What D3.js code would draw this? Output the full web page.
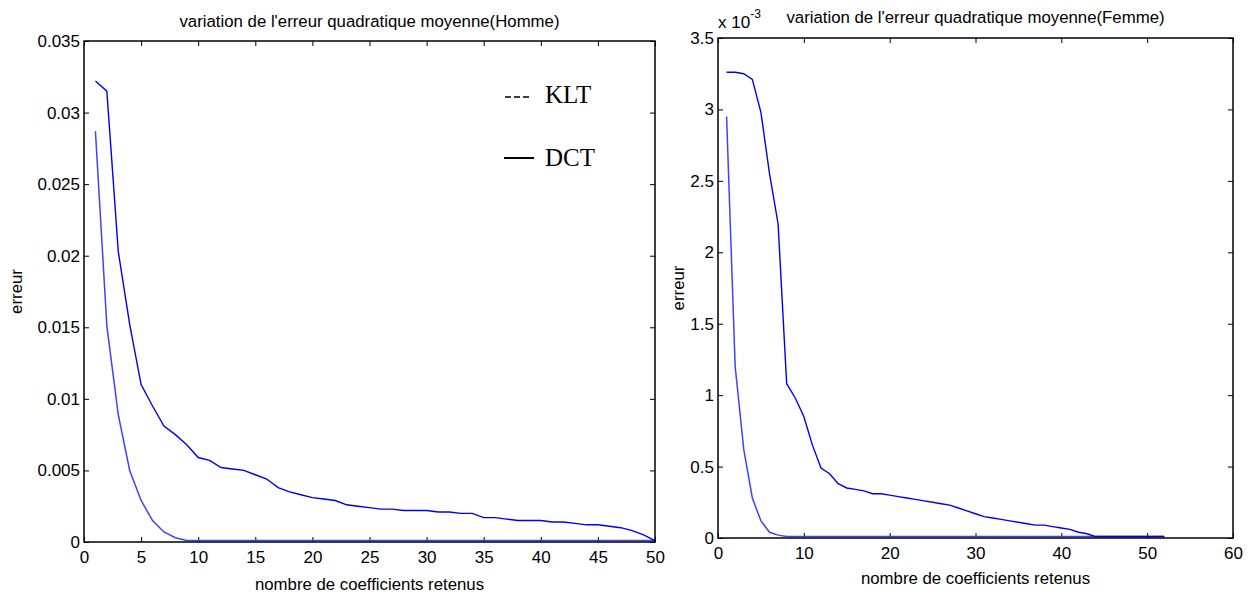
<!DOCTYPE html>
<html>
<head>
<meta charset="utf-8">
<script src="https://cdn.jsdelivr.net/npm/d3@7"></script>
<style>
  body { margin: 0; background: #fff; }
  text { font-family: Arial, "Liberation Sans", sans-serif; fill: #000; }
</style>
</head>
<body>
<div id="chart"></div>
<script>
// svg container
var svgWidth = 1254;
var svgHeight = 595;

// ---- data ----
// Homme: x = 1..50
var hommeX = d3.range(1, 51);
var hommeDCT = [0.0322, 0.0315, 0.0203, 0.0152, 0.0110, 0.0095, 0.0081, 0.0075, 0.0068, 0.0059,
                0.0057, 0.0052, 0.0051, 0.0050, 0.0047, 0.0044, 0.0038, 0.0035, 0.0033, 0.0031,
                0.0030, 0.0029, 0.0026, 0.0025, 0.0024, 0.0023, 0.0023, 0.0022, 0.0022, 0.0022,
                0.0021, 0.0021, 0.0020, 0.0020, 0.0017, 0.0017, 0.0016, 0.0015, 0.0015, 0.0015,
                0.0014, 0.0014, 0.0013, 0.0012, 0.0012, 0.0011, 0.0010, 0.0008, 0.0005, 0.0001];
var hommeKLT = [0.0287, 0.0151, 0.0089, 0.0050, 0.0029, 0.0015, 0.0007, 0.0003, 0.0001, 0.0001,
                0.0001, 0.0001, 0.0001, 0.0001, 0.0001, 0.0001, 0.0001, 0.0001, 0.0001, 0.0001,
                0.0001, 0.0001, 0.0001, 0.0001, 0.0001, 0.0001, 0.0001, 0.0001, 0.0001, 0.0001,
                0.0001, 0.0001, 0.0001, 0.0001, 0.0001, 0.0001, 0.0001, 0.0001, 0.0001, 0.0001,
                0.0001, 0.0001, 0.0001, 0.0001, 0.0001, 0.0001, 0.0001, 0.0001, 0.0001, 0.0001];

// Femme: x = 1..52, values in units of 10^-3
var femmeX = d3.range(1, 53);
var femmeDCT = [3.26, 3.26, 3.25, 3.21, 2.98, 2.55, 2.20, 1.08, 0.98, 0.85,
                0.65, 0.49, 0.45, 0.38, 0.35, 0.34, 0.33, 0.31, 0.31, 0.30,
                0.29, 0.28, 0.27, 0.26, 0.25, 0.24, 0.23, 0.21, 0.19, 0.17,
                0.15, 0.14, 0.13, 0.12, 0.11, 0.10, 0.09, 0.09, 0.08, 0.07,
                0.06, 0.04, 0.03, 0.01, 0.01, 0.01, 0.01, 0.01, 0.01, 0.01,
                0.01, 0.01];
var femmeKLT = [2.95, 1.20, 0.62, 0.28, 0.12, 0.04, 0.02, 0.01, 0.01, 0.01,
                0.01, 0.01, 0.01, 0.01, 0.01, 0.01, 0.01, 0.01, 0.01, 0.01,
                0.01, 0.01, 0.01, 0.01, 0.01, 0.01, 0.01, 0.01, 0.01, 0.01,
                0.01, 0.01, 0.01, 0.01, 0.01, 0.01, 0.01, 0.01, 0.01, 0.01,
                0.01, 0.01, 0.01, 0.01, 0.01, 0.01, 0.01, 0.01, 0.01, 0.01,
                0.01, 0.01];

// tick values
var hommeXTicks = d3.range(0, 51, 5);
var hommeYTicks = d3.range(0, 0.0351, 0.005);
var femmeXTicks = d3.range(0, 61, 10);
var femmeYTicks = d3.range(0, 3.51, 0.5);

var titleHomme = "variation de l'erreur quadratique moyenne(Homme)";
var titleFemme = "variation de l'erreur quadratique moyenne(Femme)";
var xLabel = "nombre de coefficients retenus";
var yLabel = "erreur";

var svg = d3.select("#chart")
    .append("svg")
    .attr("width", svgWidth)
    .attr("height", svgHeight);

// draw one matlab-like panel
function drawPanel(p) {
    var w = p.right - p.left;
    var h = p.bottom - p.top;
    var g = svg.append("g")
        .attr("transform", `translate(${p.left}, ${p.top})`);

    var x = d3.scaleLinear().domain(p.xDomain).range([0, w]);
    var y = d3.scaleLinear().domain(p.yDomain).range([h, 0]);

    // axes with inward ticks on all four sides
    var bottom = g.append("g")
        .attr("transform", `translate(0, ${h})`)
        .call(d3.axisBottom(x).tickValues(p.xTicks).tickSizeInner(-5).tickSizeOuter(0).tickPadding(9));
    var top = g.append("g")
        .call(d3.axisTop(x).tickValues(p.xTicks).tickSizeInner(-5).tickSizeOuter(0).tickFormat(""));
    var left = g.append("g")
        .call(d3.axisLeft(y).tickValues(p.yTicks).tickSizeInner(-5).tickSizeOuter(0).tickPadding(4)
            .tickFormat(p.yFormat));
    var rightAx = g.append("g")
        .attr("transform", `translate(${w}, 0)`)
        .call(d3.axisRight(y).tickValues(p.yTicks).tickSizeInner(-5).tickSizeOuter(0).tickFormat(""));

    [bottom, top, left, rightAx].forEach(function(a) {
        a.select(".domain").remove();
        a.selectAll("line").attr("stroke", "#000").attr("stroke-width", 1);
        a.selectAll("text").style("font-size", "17px").attr("fill", "#000");
    });

    // lines
    var line = d3.line()
        .x((d, i) => x(p.xs[i]))
        .y(d => y(d));

    g.append("path")
        .datum(p.lower)
        .attr("fill", "none")
        .attr("stroke", "#4040ff")
        .attr("stroke-width", 1.5)
        .attr("d", line);

    g.append("path")
        .datum(p.upper)
        .attr("fill", "none")
        .attr("stroke", "#0000f0")
        .attr("stroke-width", 1.4)
        .attr("d", line);

    // box
    g.append("rect")
        .attr("width", w)
        .attr("height", h)
        .attr("fill", "none")
        .attr("stroke", "#000")
        .attr("stroke-width", 1.5);

    // title
    svg.append("text")
        .attr("x", p.left + w / 2)
        .attr("y", p.titleY)
        .attr("text-anchor", "middle")
        .style("font-size", "16.8px")
        .text(p.title);

    // x label
    svg.append("text")
        .attr("x", p.left + w / 2)
        .attr("y", p.xLabelY)
        .attr("text-anchor", "middle")
        .style("font-size", "16.8px")
        .text(xLabel);

    // y label
    svg.append("text")
        .attr("transform", `translate(${p.yLabelX}, ${p.top + h / 2}) rotate(-90)`)
        .attr("text-anchor", "middle")
        .style("font-size", "16.8px")
        .text(yLabel);

    return g;
}

drawPanel({
    left: 84, right: 655, top: 41, bottom: 542,
    xDomain: [0, 50], yDomain: [0, 0.035],
    xTicks: hommeXTicks, yTicks: hommeYTicks,
    yFormat: d => d === 0 ? "0" : d3.format(".3~f")(d),
    xs: hommeX, upper: hommeDCT, lower: hommeKLT,
    title: titleHomme, titleY: 27, xLabelY: 590, yLabelX: 22
});

drawPanel({
    left: 718, right: 1233, top: 38, bottom: 538,
    xDomain: [0, 60], yDomain: [0, 3.5],
    xTicks: femmeXTicks, yTicks: femmeYTicks,
    yFormat: d => String(+d.toFixed(1)),
    xs: femmeX, upper: femmeDCT, lower: femmeKLT,
    title: titleFemme, titleY: 23, xLabelY: 584, yLabelX: 684
});

// x 10^-3 multiplier
var mult = svg.append("text")
    .attr("x", 718)
    .attr("y", 28)
    .style("font-size", "17px")
    .text("x 10");
mult.append("tspan")
    .attr("dy", -10)
    .style("font-size", "12px")
    .text("-3");

// legend (text annotation in times)
var legend = svg.append("g");
legend.append("line")
    .attr("x1", 505).attr("x2", 530)
    .attr("y1", 97).attr("y2", 97)
    .attr("stroke", "#000")
    .attr("stroke-width", 1.3)
    .attr("stroke-dasharray", "6,3");
legend.append("line")
    .attr("x1", 504).attr("x2", 534)
    .attr("y1", 158).attr("y2", 158)
    .attr("stroke", "#000")
    .attr("stroke-width", 2);
legend.append("text")
    .attr("x", 545).attr("y", 103)
    .style("font-family", "'Times New Roman', 'Liberation Serif', serif")
    .style("font-size", "25px")
    .text("KLT");
legend.append("text")
    .attr("x", 545).attr("y", 166)
    .style("font-family", "'Times New Roman', 'Liberation Serif', serif")
    .style("font-size", "25px")
    .text("DCT");
</script>
</body>
</html>
